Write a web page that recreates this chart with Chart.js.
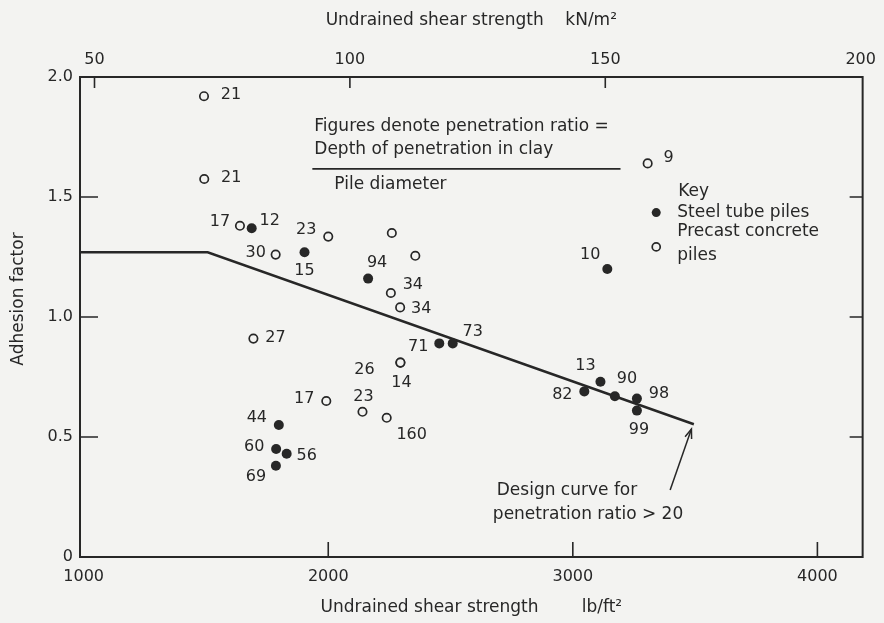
<!DOCTYPE html>
<html><head><meta charset="utf-8">
<script src="https://cdn.jsdelivr.net/npm/chart.js@4.4.1/dist/chart.umd.min.js"></script>
<style>html,body{margin:0;padding:0;background:#f3f3f1;}canvas{display:block}</style>
</head><body>
<canvas id="c" width="884" height="623"></canvas>
<script>
// ---- tick labels ----
const xTicksLb = [1000, 2000, 3000, 4000];
const xTicksKn = [50, 100, 150, 200];
const yTicks = [0, 0.5, 1.0, 1.5, 2.0];

// ---- Steel tube piles (filled) ----
const steelX = [1687, 1903, 2163, 2454, 2509, 1798, 1787, 1830, 1786, 3141, 3047, 3113, 3172, 3262, 3262];
const steelY = [1.37, 1.27, 1.16, 0.89, 0.89, 0.55, 0.45, 0.43, 0.38, 1.20, 0.69, 0.73, 0.67, 0.66, 0.61];
const steelLabels = ['12', '15', '94', '71', '73', '44', '60', '56', '69', '10', '82', '13', '90', '98', '99'];

// ---- Precast concrete piles (open) ----
const concreteX = [1492, 1493, 1639, 1785, 2000, 2260, 2356, 2256, 2294, 1694, 2295, 2295, 1992, 2140, 2239, 3306];
const concreteY = [1.92, 1.575, 1.38, 1.26, 1.335, 1.35, 1.255, 1.10, 1.04, 0.91, 0.81, 0.81, 0.65, 0.605, 0.58, 1.64];
const concreteLabels = ['21', '21', '17', '30', '23', '', '', '34', '34', '27', '26', '14', '17', '23', '160', '9'];

// ---- Design curve for penetration ratio > 20 ----
const designX = [985, 1507, 3495];
const designY = [1.27, 1.27, 0.553];

// ---- label placement (style, pixels) ----
const steelLabelOffsets = [[18,-7],[0,19],[9,-16],[-21,3],[20,-12],[-22,-7],[-22,-2],[20,2],[-20,11],[-17,-14],[-22,3],[-15,-16],[12,-17],[22,-5],[2,19]];
const concreteLabelOffsets = [[27,-1],[27,-1],[-20,-4],[-20,-2],[-22,-7],[0,0],[0,0],[22,-8],[21,1],[22,-1],[-36,7],[1,20],[-22,-2],[1,-15],[25,17],[21,-6]];

const LB_PER_KN = 20.885;
const X_MIN = 985, X_MAX = 4185;
const ink = '#272727';
const FONT = '"DejaVu Sans", sans-serif';

const pts = (xs, ys) => xs.map((v, i) => ({x: v, y: ys[i]}));

const overlay = {
  id: 'overlay',
  beforeDraw(chart) {
    const c = chart.ctx;
    c.save(); c.fillStyle = '#f3f3f1'; c.fillRect(0, 0, chart.width, chart.height); c.restore();
  },
  afterDatasetsDraw(chart) {
    const {ctx, chartArea: a, scales: {x, y, x2}} = chart;
    const P = (vx, vy) => [x.getPixelForValue(vx), y.getPixelForValue(vy)];
    ctx.save();
    ctx.strokeStyle = ink; ctx.fillStyle = ink;
    // right frame
    ctx.lineWidth = 2;
    ctx.beginPath(); ctx.moveTo(a.right, a.top - 1); ctx.lineTo(a.right, a.bottom + 1); ctx.stroke();
    // inward tick marks
    ctx.lineWidth = 1.6;
    [0.5, 1.0, 1.5].forEach(v => {
      const py = y.getPixelForValue(v);
      ctx.beginPath();
      ctx.moveTo(a.left, py); ctx.lineTo(a.left + 18, py);
      ctx.moveTo(a.right, py); ctx.lineTo(a.right - 13, py);
      ctx.stroke();
    });
    [2000, 3000, 4000].forEach(v => {
      const px = x.getPixelForValue(v);
      ctx.beginPath(); ctx.moveTo(px, a.bottom); ctx.lineTo(px, a.bottom - 15); ctx.stroke();
    });
    [50, 100, 150].forEach(v => {
      const px = x2.getPixelForValue(v);
      ctx.beginPath(); ctx.moveTo(px, a.top); ctx.lineTo(px, a.top + 11); ctx.stroke();
    });
    // y-axis title
    ctx.save();
    ctx.font = '17px ' + FONT; ctx.textAlign = 'center'; ctx.textBaseline = 'middle';
    ctx.translate(19, 299); ctx.rotate(-Math.PI / 2);
    ctx.fillText('Adhesion factor', 0, 0);
    ctx.restore();
    // point labels
    ctx.font = '16px ' + FONT; ctx.textAlign = 'center'; ctx.textBaseline = 'middle';
    chart.data.datasets.forEach((ds, i) => {
      if (!ds.pointLabels) return;
      const meta = chart.getDatasetMeta(i);
      meta.data.forEach((el, j) => {
        const t = ds.pointLabels[j];
        if (!t) return;
        const o = ds.labelOffsets[j];
        ctx.fillText(t, el.x + o[0], el.y + o[1]);
      });
    });
    // annotation text
    ctx.font = '17px ' + FONT; ctx.textAlign = 'left';
    let p;
    p = P(1943, 1.792); ctx.fillText('Figures denote penetration ratio =', p[0], p[1]);
    p = P(1943, 1.696); ctx.fillText('Depth of penetration in clay', p[0], p[1]);
    const r1 = P(1935, 1.617), r2 = P(3195, 1.617);
    ctx.lineWidth = 1.8; ctx.beginPath(); ctx.moveTo(r1[0], r1[1]); ctx.lineTo(r2[0], r2[1]); ctx.stroke();
    p = P(2025, 1.55); ctx.fillText('Pile diameter', p[0], p[1]);
    // key
    p = P(3431, 1.522); ctx.fillText('Key', p[0], p[1]);
    p = P(3341, 1.435); ctx.beginPath(); ctx.arc(p[0], p[1], 4.5, 0, Math.PI * 2); ctx.fill();
    p = P(3427, 1.435); ctx.fillText('Steel tube piles', p[0], p[1]);
    p = P(3427, 1.354); ctx.fillText('Precast concrete', p[0], p[1]);
    p = P(3341, 1.292); ctx.lineWidth = 1.7; ctx.beginPath(); ctx.arc(p[0], p[1], 4, 0, Math.PI * 2); ctx.stroke();
    p = P(3427, 1.254); ctx.fillText('piles', p[0], p[1]);
    // design curve note + arrow
    p = P(2689, 0.275); ctx.fillText('Design curve for', p[0], p[1]);
    p = P(2673, 0.175); ctx.fillText('penetration ratio > 20', p[0], p[1]);
    const t = P(3398, 0.279), h = P(designX[2] - 10, designY[2] - 0.02);
    ctx.lineWidth = 1.5;
    ctx.beginPath(); ctx.moveTo(t[0], t[1]); ctx.lineTo(h[0], h[1]); ctx.stroke();
    const ang = Math.atan2(h[1] - t[1], h[0] - t[0]);
    ctx.beginPath();
    ctx.moveTo(h[0] - 10 * Math.cos(ang - 0.35), h[1] - 10 * Math.sin(ang - 0.35));
    ctx.lineTo(h[0], h[1]);
    ctx.lineTo(h[0] - 10 * Math.cos(ang + 0.35), h[1] - 10 * Math.sin(ang + 0.35));
    ctx.stroke();
    ctx.restore();
  }
};

Chart.defaults.font.family = FONT;
Chart.defaults.color = ink;

new Chart(document.getElementById('c'), {
  type: 'scatter',
  data: {
    datasets: [
      {
        label: 'Steel tube piles',
        data: pts(steelX, steelY),
        pointLabels: steelLabels,
        labelOffsets: steelLabelOffsets,
        pointRadius: 5, pointBackgroundColor: ink, pointBorderColor: ink, pointBorderWidth: 0,
        order: 1
      },
      {
        label: 'Precast concrete piles',
        data: pts(concreteX, concreteY),
        pointLabels: concreteLabels,
        labelOffsets: concreteLabelOffsets,
        pointRadius: 4.2, pointBackgroundColor: '#f3f3f1', pointBorderColor: ink, pointBorderWidth: 1.7,
        order: 2
      },
      {
        label: 'Design curve for penetration ratio > 20',
        type: 'line',
        data: pts(designX, designY),
        showLine: true, borderColor: ink, borderWidth: 2.5, pointRadius: 0, fill: false, tension: 0,
        order: 3
      }
    ]
  },
  options: {
    responsive: false,
    animation: false,
    devicePixelRatio: 1,
    layout: {padding: {left: 0, right: 19, top: 0, bottom: 0}},
    plugins: {legend: {display: false}, tooltip: {enabled: false}},
    scales: {
      x: {
        type: 'linear', position: 'bottom', min: X_MIN, max: X_MAX,
        afterBuildTicks: s => { s.ticks = xTicksLb.map(v => ({value: v})); },
        afterFit: s => { s.height = 66; },
        grid: {display: false, drawTicks: false},
        border: {display: true, color: ink, width: 2},
        ticks: {font: {size: 16}, color: ink, padding: 10, maxRotation: 0, autoSkip: false, callback: v => String(v)},
        title: {display: true, text: 'Undrained shear strength        lb/ft²', font: {size: 17}, color: ink, padding: {top: 0, bottom: 5}}
      },
      x2: {
        type: 'linear', position: 'top', min: X_MIN / LB_PER_KN, max: X_MAX / LB_PER_KN,
        afterBuildTicks: s => { s.ticks = xTicksKn.map(v => ({value: v})); },
        afterFit: s => { s.height = 77; },
        grid: {display: false, drawTicks: false},
        border: {display: true, color: ink, width: 2},
        ticks: {font: {size: 16}, color: ink, padding: 8, maxRotation: 0, autoSkip: false, callback: v => String(v)},
        title: {display: true, text: 'Undrained shear strength    kN/m²', font: {size: 17}, color: ink, padding: {top: 10, bottom: 0}}
      },
      y: {
        type: 'linear', position: 'left', min: 0, max: 2.0,
        afterBuildTicks: s => { s.ticks = yTicks.map(v => ({value: v})); },
        afterFit: s => { s.width = 80; },
        grid: {display: false, drawTicks: false},
        border: {display: true, color: ink, width: 2},
        ticks: {font: {size: 16}, color: ink, padding: 7, callback: v => v === 0 ? '0' : v.toFixed(1)},
        title: {display: false, text: 'Adhesion factor'}
      }
    }
  },
  plugins: [overlay]
});
</script>
</body></html>
